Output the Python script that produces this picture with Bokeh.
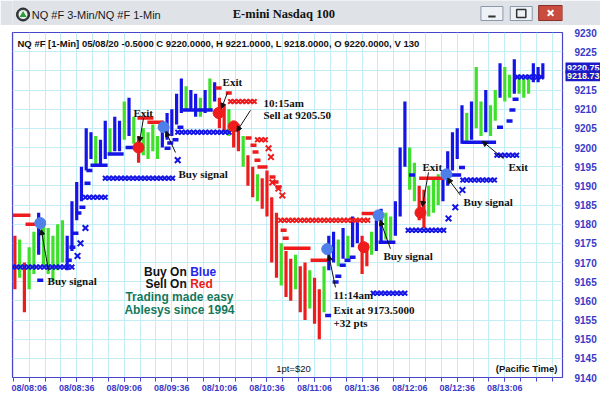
import numpy as np
from bokeh.plotting import figure
from bokeh.models import Range1d, FixedTicker, Arrow, NormalHead, ColumnDataSource
from bokeh.layouts import column
from bokeh.core.properties import value
from bokeh.embed import file_html
from bokeh.resources import INLINE

# ---------------- data ----------------
# time axis: minutes after 08:00 (May 8), price bars every 3 minutes
bar_time = list(range(-3, 331, 3))
bar_high = [
    9177, 9176, 9170, 9174, 9178, 9183, 9181, 9179,
    9177, 9180, 9181, 9177, 9186, 9191, 9195, 9205,
    9204, 9203, 9202, 9207, 9205, 9208, 9207, 9212,
    9213, 9208, 9203, 9205, 9204, 9206, 9203, 9207,
    9209, 9210, 9214, 9218, 9216, 9215, 9214, 9213,
    9215, 9218, 9217, 9213, 9211, 9210, 9207, 9206,
    9203, 9198, 9195, 9193, 9192, 9194, 9187, 9183,
    9175, 9173, 9171, 9172, 9169, 9170, 9168, 9166,
    9163, 9169, 9177, 9178, 9176, 9179, 9177, 9182,
    9181, 9177, 9175, 9178, 9181, 9184, 9183, 9182,
    9186, 9200, 9212, 9200, 9196, 9190, 9189, 9190,
    9192, 9193, 9194, 9199, 9204, 9205, 9211, 9209,
    9212, 9221, 9212, 9215, 9211, 9215, 9222, 9221,
    9219, 9223, 9219, 9218, 9219, 9222, 9221, 9222,
]
bar_low = [
    9163, 9166, 9157, 9163, 9167, 9172, 9169, 9167,
    9165, 9168, 9170, 9168, 9173, 9181, 9186, 9194,
    9197, 9195, 9195, 9197, 9198, 9199, 9199, 9202,
    9203, 9201, 9196, 9198, 9197, 9199, 9197, 9200,
    9202, 9203, 9206, 9209, 9210, 9210, 9208, 9208,
    9209, 9210, 9212, 9205, 9204, 9203, 9200, 9199,
    9195, 9190, 9187, 9186, 9184, 9182, 9170, 9166,
    9164, 9161, 9160, 9163, 9157, 9155, 9158, 9154,
    9150, 9157, 9168, 9170, 9169, 9171, 9171, 9174,
    9175, 9167, 9169, 9172, 9173, 9175, 9176, 9175,
    9177, 9182, 9195, 9189, 9186, 9181, 9179, 9182,
    9183, 9185, 9186, 9190, 9194, 9197, 9201, 9201,
    9202, 9205, 9203, 9204, 9203, 9207, 9213, 9212,
    9213, 9214, 9214, 9213, 9214, 9217, 9217, 9218,
]
# r = short bias, g = neutral, b = long bias
bar_kind = ("rgrggbgg" "gggbbbbb" "bgbbgbbg" "bgrggggb" "bbbbgbbg" "bgbrrgrr" "grrgrrrr"
            "grrgrrgr" "rgbbgbgb" "brrgbbgg" "bbbggrrg" "ggbbbbbg" "bggbggbg" "gbgggbbb")

# trailing stop marks
blue_stop_t = [13, 31, 33.3, 35.2, 37.1, 39.6, 42.8, 44, 93.3, 95, 98.3, 101.4,
               194.6, 199.3, 201, 203.8, 206.8, 210, 247.5, 279, 303, 309, 310.8, 312.8]
blue_stop_p = [9165.4, 9170.6, 9174.0, 9177.6, 9182.9, 9184.4, 9190.7, 9194.0, 9199.8, 9201.2, 9202.0, 9205.3,
               9156.2, 9164.9, 9166.4, 9169.3, 9170.6, 9171.4, 9192.8, 9194.8, 9205.3, 9206.9, 9209.8, 9212.6]
blue_line_start = [44.7, 55.5, 66.8, 102.8, 226.4, 269.0, 279.0]
blue_line_end = [55.5, 65.6, 76.2, 121.8, 237.0, 278.5, 300.5]
blue_line_level = [9195.4, 9198.3, 9200.0, 9209.8, 9175.3, 9192.8, 9201.4]

red_stop_t = [125.5, 131.9, 144.4, 147.5, 148.8, 150, 159.5, 161.4, 163.3, 166.5, 167.8]
red_stop_p = [9215.5, 9214.2, 9202.5, 9200.6, 9198.8, 9196.7, 9192.3, 9191.0, 9189.7, 9178.4, 9176.3]
red_line_start = [-4.5, 3.7, 74.3, 80.6, 150.0, 166.5, 183.5, 215.7, 252.0]
red_line_end = [6.8, 10.0, 84.4, 90.7, 156.4, 183.5, 194.0, 226.4, 267.8]
red_line_level = [9182.3, 9180.0, 9207.7, 9206.6, 9194.9, 9173.7, 9170.6, 9182.8, 9192.0]

# profit target rows
blue_tgt_start = [-4.5, 41.5, 54.0, 99.7, 223.0, 245.0, 279.5, 301.0, 314.0]
blue_tgt_end = [33.3, 56.0, 97.0, 134.4, 244.5, 269.0, 301.0, 313.7, 330.5]
blue_tgt_level = [9168.8, 9187.0, 9192.0, 9204.0, 9162.0, 9178.4, 9191.5, 9198.0, 9218.4]
blue_tgt_single_t = [36.5, 38.4, 41.5, 99.7, 270.5, 274.8, 279.3]
blue_tgt_single_p = [9171.7, 9175.0, 9179.0, 9196.7, 9181.5, 9184.4, 9188.9]

red_tgt_start = [133.0, 150.0, 164.6]
red_tgt_end = [149.0, 155.0, 221.4]
red_tgt_level = [9212.0, 9202.0, 9181.0]
red_tgt_single_t = [157.0, 158.5, 159.4, 163.2, 165.7]
red_tgt_single_p = [9199.8, 9197.5, 9190.9, 9189.3, 9187.5]

# signals
buy_sig_t = [13, 90.8, 194, 226.4, 269.2]
buy_sig_p = [9180.3, 9205.3, 9173.5, 9182.3, 9193.0]
sell_sig_t = [75, 125.5, 135, 217, 252.8]
sell_sig_p = [9200.0, 9209.0, 9205.5, 9174.0, 9183.0]

# last traded prices shown on the price scale
last_prices = [9220.75, 9218.73]

# axes
tick_minutes = [6, 36, 66, 96, 126, 156, 186, 216, 246, 276, 306]
tick_labels = ["08/08:06", "08/08:36", "08/09:06", "08/09:36", "08/10:06", "08/10:36",
               "08/11:06", "08/11:36", "08/12:06", "08/12:36", "08/13:06"]
minor_minutes = list(range(-4, 343, 10))
price_ticks = list(range(9140, 9231, 5))

# callouts
ann_x = [17.6, 71.8, 100.2, 128.0, 229.5, 254.1, 280.0, 308.3]
ann_y = [9165.3, 9209.1, 9193.2, 9217.0, 9171.8, 9195.0, 9185.9, 9195.0]
ann_text = ["Buy signal", "Exit", "Buy signal", "Exit", "Buy signal", "Exit", "Buy signal", "Exit"]
note_x = [153.8, 153.8, 198.0, 198.0, 198.0]
note_y = [9211.7, 9208.6, 9161.4, 9157.7, 9154.1]
note_text = ["10:15am", "Sell at 9205.50", "11:14am", "Exit at 9173.5000", "+32 pts"]
arrow_x0 = [18.2, 78.1, 98.3, 131.1, 145.6, 199.2, 233.9, 257.9, 278.1, 305.2]
arrow_y0 = [9167.9, 9207.6, 9198.7, 9214.3, 9209.7, 9163.5, 9173.6, 9193.5, 9187.5, 9197.1]
arrow_x1 = [13.6, 75.6, 92.2, 127.3, 137.0, 195.0, 227.4, 254.0, 270.0, 291.9]
arrow_y1 = [9178.6, 9201.4, 9204.2, 9210.2, 9204.2, 9171.9, 9181.0, 9184.6, 9192.0, 9201.6]

BLUE = "#1414e6"
GREEN = "#3ee02a"
RED = "#ee1c1c"
SERIF = value("Liberation Serif")
SANS = value("Liberation Sans")
kind_color = {"r": RED, "g": GREEN, "b": BLUE}

X_START, X_END = -4.5, 342.4
FRAME_W = 550  # plot frame width in pixels
PX_PER_MIN = FRAME_W / (X_END - X_START)


def row_marks(starts, ends, levels, step=2.5):
    xs, ys = [], []
    for a, b, lvl in zip(starts, ends, levels):
        for t in np.arange(a, b + 0.01, step):
            xs.append(float(t))
            ys.append(lvl)
    return xs, ys


# ---------------- window title bar ----------------
top = figure(width=600, height=25, x_range=Range1d(0, 600), y_range=Range1d(25, 0),
             output_backend="svg", toolbar_location=None, min_border=0,
             x_axis_location=None, y_axis_location=None)
top.grid.visible = False
top.outline_line_color = None
top.background_fill_color = "#dfe3e8"
top.border_fill_color = "#dfe3e8"

top.scatter([11.5], [14], size=13, fill_color="#3b3f44", line_color="#1e1e1e")
top.scatter([11.5], [14], size=9, fill_color="#eef3ee", line_color=None)
top.scatter([11.5], [14.5], marker="triangle", size=7, fill_color="#2f9a3a", line_color=None)
top.text([21], [14], text=["NQ #F 3-Min/NQ #F 1-Min"], text_font=SANS, text_font_size="11px",
         text_baseline="middle", text_align="left", text_color="#1a1a1a")
top.text([296], [13], text=["E-mini Nasdaq 100"], text_font=SERIF, text_font_size="12.5px",
         text_font_style="bold", text_baseline="middle", text_align="center", text_color="#111111")
top.quad(left=[511, 543], right=[535, 567], top=[6, 6], bottom=[20, 20],
         fill_color="#eef1f5", line_color="#8d99a8")
top.segment([519], [16], [527], [16], line_width=2, line_color="#333333")
top.quad(left=[550], right=[560], top=[9], bottom=[17], fill_color=None,
         line_color="#333333", line_width=1.5)
top.quad(left=[574], right=[600], top=[5], bottom=[20], fill_color="#c94c3e", line_color="#8a2f28")
top.scatter([587], [12.5], marker="x", size=8, line_color="white", line_width=2)

# ---------------- price chart ----------------
p = figure(width=600, height=373, x_range=Range1d(X_START, X_END), y_range=Range1d(9140, 9230),
           output_backend="svg", toolbar_location=None,
           min_border_left=12, min_border_right=38, min_border_top=7, min_border_bottom=21,
           y_axis_location="right")
p.background_fill_color = "white"
p.border_fill_color = "white"
p.outline_line_color = "#4444cc"
p.outline_line_width = 1.2

p.xgrid.ticker = FixedTicker(ticks=minor_minutes)
p.ygrid.ticker = FixedTicker(ticks=price_ticks)
p.grid.grid_line_color = "#c4eef7"
p.grid.grid_line_width = 1

p.yaxis.ticker = FixedTicker(ticks=price_ticks)
p.yaxis.axis_line_color = None
p.yaxis.major_tick_line_color = None
p.yaxis.minor_tick_line_color = None
p.yaxis.major_label_standoff = 6
p.yaxis.major_label_text_color = "#3a3ac8"
p.yaxis.major_label_text_font = "Liberation Sans"
p.yaxis.major_label_text_font_style = "bold"
p.yaxis.major_label_text_font_size = "10px"

p.xaxis.ticker = FixedTicker(ticks=tick_minutes, minor_ticks=minor_minutes)
p.xaxis.major_label_overrides = {t: s for t, s in zip(tick_minutes, tick_labels)}
p.xaxis.axis_line_color = None
p.xaxis.major_tick_line_color = "#4444cc"
p.xaxis.minor_tick_line_color = "#4444cc"
p.xaxis.major_tick_in = 0
p.xaxis.minor_tick_in = 0
p.xaxis.major_tick_out = 4
p.xaxis.minor_tick_out = 4
p.xaxis.major_label_standoff = 1
p.xaxis.major_label_text_color = "#3a3ac8"
p.xaxis.major_label_text_font = "Liberation Sans"
p.xaxis.major_label_text_font_style = "bold"
p.xaxis.major_label_text_font_size = "9px"

# price bars (high-low)
bars = ColumnDataSource(dict(t=bar_time, hi=bar_high, lo=bar_low,
                             c=[kind_color[k] for k in bar_kind]))
p.segment(x0="t", y0="lo", x1="t", y1="hi", line_color="c", line_width=3.2, source=bars)

# trailing stops
p.segment(x0=blue_line_start, y0=blue_line_level, x1=blue_line_end, y1=blue_line_level,
          line_color=BLUE, line_width=3.5)
p.segment(x0=red_line_start, y0=red_line_level, x1=red_line_end, y1=red_line_level,
          line_color=RED, line_width=3.5)
p.rect(x=blue_stop_t, y=blue_stop_p, width=6, height=3.5, width_units="screen",
       height_units="screen", fill_color=BLUE, line_color=None)
p.rect(x=red_stop_t, y=red_stop_p, width=6, height=3.5, width_units="screen",
       height_units="screen", fill_color=RED, line_color=None)

# targets
bx, by = row_marks(blue_tgt_start, blue_tgt_end, blue_tgt_level)
rx, ry = row_marks(red_tgt_start, red_tgt_end, red_tgt_level)
p.scatter(bx, by, marker="x", size=6.5, line_color=BLUE, line_width=2)
p.scatter(rx, ry, marker="x", size=6.5, line_color=RED, line_width=2)
p.scatter(blue_tgt_single_t, blue_tgt_single_p, marker="x", size=8, line_color=BLUE, line_width=2)
p.scatter(red_tgt_single_t, red_tgt_single_p, marker="x", size=8, line_color=RED, line_width=2)

# signal dots
p.scatter(buy_sig_t, buy_sig_p, marker="circle", size=11, fill_color="#4f7fe8", line_color="#4f7fe8")
p.scatter(sell_sig_t, sell_sig_p, marker="circle", size=11, fill_color=RED, line_color=RED)

# callouts
p.text(ann_x, ann_y, text=ann_text, text_font=SERIF, text_font_style="bold", text_font_size="11px",
       text_baseline="middle", text_align="left", text_color="#111111")
p.text(note_x, note_y, text=note_text, text_font=SERIF, text_font_style="bold", text_font_size="11px",
       text_baseline="middle", text_align="left", text_color="#111111")
arrows = ColumnDataSource(dict(x0=arrow_x0, y0=arrow_y0, x1=arrow_x1, y1=arrow_y1))
p.add_layout(Arrow(end=NormalHead(size=5, fill_color="#111111", line_color="#111111"),
                   x_start="x0", y_start="y0", x_end="x1", y_end="y1", source=arrows,
                   line_color="#111111", line_width=1))

# header line
p.text([-1.35], [9227.1], text=["NQ #F [1-Min] 05/08/20  -0.5000 C 9220.0000, H 9221.0000, "
                                "L 9218.0000, O 9220.0000, V 130"],
       text_font=SANS, text_font_style="bold", text_font_size="9.5px", text_baseline="middle",
       text_align="left", text_color="#111111")

# slogan
p.text([106.5], [9167.5], text=["Buy On"], text_font=SANS, text_font_style="bold", text_font_size="12px",
       text_baseline="middle", text_align="right", x_offset=-1.7, text_color="#111111")
p.text([106.5], [9167.5], text=["Blue"], text_font=SANS, text_font_style="bold", text_font_size="12px",
       text_baseline="middle", text_align="left", x_offset=1.7, text_color="#2424ee")
p.text([106.5], [9164.4], text=["Sell On"], text_font=SANS, text_font_style="bold", text_font_size="12px",
       text_baseline="middle", text_align="right", x_offset=-1.7, text_color="#111111")
p.text([106.5], [9164.4], text=["Red"], text_font=SANS, text_font_style="bold", text_font_size="12px",
       text_baseline="middle", text_align="left", x_offset=1.7, text_color="#ee1a1a")
p.text([100.8, 100.8], [9160.9, 9157.5], text=["Trading made easy", "Ablesys since 1994"],
       text_font=SANS, text_font_style="bold", text_font_size="12px", text_baseline="middle",
       text_align="center", text_color="#15785a")

# footer notes
p.text([172.7], [9142.3], text=["1pt=$20"], text_font=SANS, text_font_size="9.5px",
       text_baseline="middle", text_align="center", text_color="#111111")
p.text([339.2], [9142.3], text=["(Pacific Time)"], text_font=SANS, text_font_style="bold",
       text_font_size="9.5px", text_baseline="middle", text_align="right", text_color="#111111")

# last price tags on the price scale, right of the frame; the overlay level
# keeps them unclipped and above the axis labels
tag_left = X_END + 3 / PX_PER_MIN
tag_mid = X_END + 20.5 / PX_PER_MIN
for price, fg in zip(last_prices, ["#ffffff", "#ffffc8"]):
    p.rect(x=[tag_mid], y=[price], width=35, height=11, width_units="screen", height_units="screen",
           fill_color="#1a1ac8", line_color=None, level="overlay")
    p.text(x=[tag_left], y=[price], text=[f"{price:.2f}"], x_offset=1.5, text_font=SANS,
           text_font_style="bold", text_font_size="9px", text_baseline="middle",
           text_align="left", text_color=fg, level="overlay")

layout = column(top, p, spacing=0)
open("out.html", "w").write(file_html(layout, INLINE))
